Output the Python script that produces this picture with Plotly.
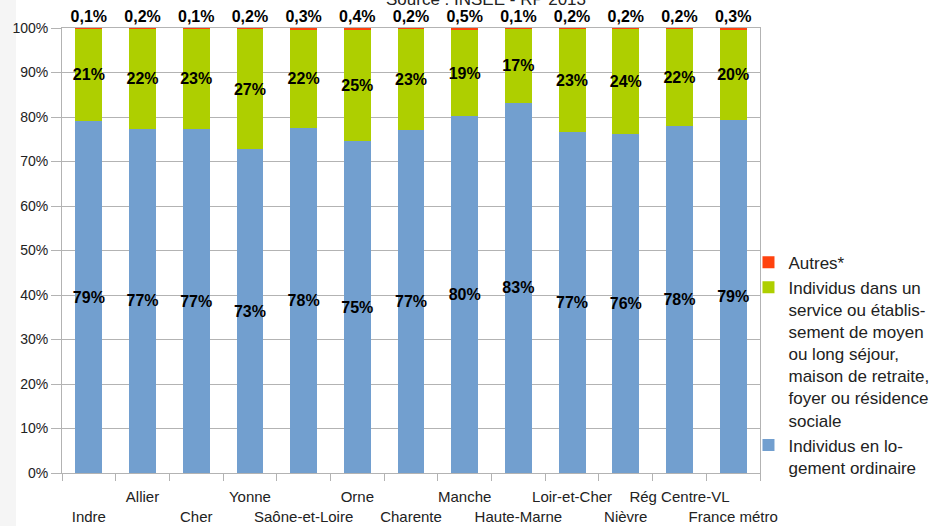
import plotly.graph_objects as go

categories = ["Indre", "Allier", "Cher", "Yonne", "Saône-et-Loire", "Orne", "Charente",
              "Manche", "Haute-Marne", "Loir-et-Cher", "Nièvre", "Rég Centre-VL", "France métro"]
logement_ordinaire = [79.0, 77.4, 77.2, 72.7, 77.6, 74.6, 77.0, 80.2, 83.2, 76.7, 76.2, 78.0, 79.4]
etablissement = [20.9, 22.4, 22.7, 27.1, 22.1, 25.0, 22.8, 19.3, 16.7, 23.1, 23.6, 21.8, 20.3]
autres = [0.1, 0.2, 0.1, 0.2, 0.3, 0.4, 0.2, 0.5, 0.1, 0.2, 0.2, 0.2, 0.3]
y_ticks = [0, 10, 20, 30, 40, 50, 60, 70, 80, 90, 100]

# staggered category labels (two rows)
tick_text = [("<br>" + c if i % 2 == 0 else c) for i, c in enumerate(categories)]
y_tick_text = [f"{v}%" for v in y_ticks]

label_font = dict(family="Liberation Sans", size=16, color="black", weight="bold")

fig = go.Figure()
fig.add_trace(go.Bar(
    x=categories, y=logement_ordinaire,
    name="Individus en lo-<br>gement ordinaire",
    marker=dict(color="#729fcf", line=dict(width=0)),
    texttemplate="%{y:.0f}%", textposition="inside", insidetextanchor="middle",
    constraintext="none", textfont=label_font, textangle=0,
))
fig.add_trace(go.Bar(
    x=categories, y=etablissement,
    name="Individus dans un<br>service ou établis-<br>sement de moyen<br>ou long séjour,<br>maison de retraite,<br>foyer ou résidence<br>sociale",
    marker=dict(color="#aecf00", line=dict(width=0)),
    texttemplate="%{y:.0f}%", textposition="inside", insidetextanchor="middle",
    constraintext="none", textfont=label_font, textangle=0,
))
fig.add_trace(go.Bar(
    x=categories, y=autres,
    name="Autres*",
    marker=dict(color="#ff420e", line=dict(width=0)),
    texttemplate="%{y:.1f}%", textposition="outside",
    constraintext="none", textfont=label_font, textangle=0, cliponaxis=False,
))

fig.update_layout(
    width=946, height=526,
    barmode="stack", bargap=0.5,
    separators=", ",
    paper_bgcolor="white", plot_bgcolor="white",
    margin=dict(l=62, r=186, t=28, b=53, autoexpand=False),
    font=dict(family="Liberation Sans", size=14, color="#222222"),
    legend=dict(
        x=0.9835, xanchor="left", y=0.513, yanchor="top",
        traceorder="reversed", font=dict(size=17, color="#222222"),
        itemwidth=30, tracegroupgap=0, bgcolor="rgba(0,0,0,0)", valign="top",
    ),
    showlegend=True,
)

fig.update_xaxes(
    tickmode="array", tickvals=categories, ticktext=tick_text, tickangle=0,
    tickson="boundaries", ticks="outside", ticklen=7, tickcolor="#b3b3b3",
    ticklabelstandoff=10,
    showline=True, linecolor="#b3b3b3", linewidth=1, mirror=True,
    showgrid=False, tickfont=dict(size=15, color="#222222"), automargin=False,
)
fig.update_yaxes(
    range=[0, 100.001], tickmode="array", tickvals=y_ticks, ticktext=y_tick_text,
    ticks="outside", ticklen=10, tickcolor="#b3b3b3",
    showline=True, linecolor="#b3b3b3", linewidth=1, mirror=True,
    showgrid=True, gridcolor="#b3b3b3", gridwidth=1,
    tickfont=dict(size=14, color="#222222"), zeroline=False, automargin=False,
)

fig.add_shape(type="rect", xref="paper", yref="paper",
              x0=-62 / 698, x1=-46 / 698, y0=-53 / 445, y1=1 + 28 / 445,
              fillcolor="#f5f5f5", line=dict(width=0), layer="below")

fig.add_annotation(text="Source : INSEE - RP 2013", xref="paper", yref="paper",
                   x=0.607, y=1, yanchor="middle", yshift=29, showarrow=False,
                   font=dict(size=17, color="#222222"))

fig.write_html("out.html", config={"displayModeBar": False},
               post_script="document.body.style.margin='0px';")
